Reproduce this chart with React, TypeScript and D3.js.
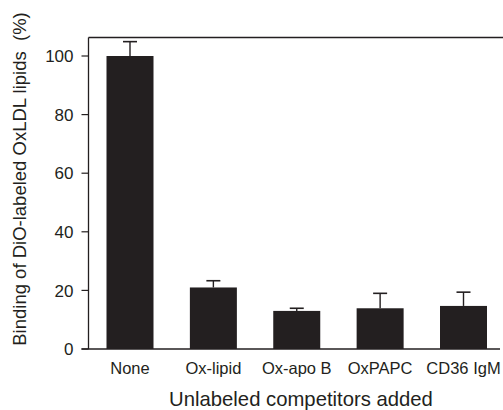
import React from "react"
import * as d3 from "d3"

const categories = ["None", "Ox-lipid", "Ox-apo B", "OxPAPC", "CD36 IgM"]
const values = [100, 21, 13, 13.9, 14.7]
const errors = [4.9, 2.3, 0.9, 5.1, 4.7]
const yTicks = [0, 20, 40, 60, 80, 100]

const App = () => {
  const width = 503
  const height = 410
  const axisX = 88.5
  const baseY = 349
  const y = d3.scaleLinear().domain([0, 100]).range([baseY, 56])
  const x = d3.scalePoint<string>().domain(categories).range([130, 463.5])
  const barW = 47
  const ink = "#231f20"
  const font = "Liberation Sans, Arial, sans-serif"

  return (
    <svg width={width} height={height} style={{ position: "absolute", left: 0, top: 0 }}>
      {/* frame top and baseline */}
      <line x1={axisX} x2={width} y1={37.5} y2={37.5} stroke={ink} strokeWidth={1.3} />
      <line x1={axisX} x2={axisX} y1={37.5} y2={baseY} stroke={ink} strokeWidth={1.3} />
      <line x1={axisX - 7} x2={width - 3} y1={baseY} y2={baseY} stroke={ink} strokeWidth={1.3} />

      {yTicks.map(t => (
        <g key={t}>
          <line x1={axisX - 7} x2={axisX} y1={y(t)} y2={y(t)} stroke={ink} strokeWidth={1.2} />
          <text x={73.5} y={y(t)} dy="0.36em" textAnchor="end" fontSize={17} fontFamily={font} fill={ink}>{t}</text>
        </g>
      ))}

      {categories.map((c, i) => {
        const cx = x(c) as number
        const top = y(values[i])
        const errTop = y(values[i] + errors[i])
        return (
          <g key={c}>
            <line x1={cx} x2={cx} y1={errTop} y2={top} stroke={ink} strokeWidth={1.4} />
            <line x1={cx - 7} x2={cx + 7} y1={errTop} y2={errTop} stroke={ink} strokeWidth={1.6} />
            <rect x={cx - barW / 2} y={top} width={barW} height={baseY - top} fill={ink} />
            <text x={cx} y={373.5} textAnchor="middle" fontSize={16.5} fontFamily={font} fill={ink}>{c}</text>
          </g>
        )
      })}

      <text x={301} y={405.5} textAnchor="middle" fontSize={20.3} fontFamily={font} fill={ink}>Unlabeled competitors added</text>
      <text transform="translate(26,179) rotate(-90)" textAnchor="middle" fontSize={18.5} fontFamily={font} fill={ink} style={{ whiteSpace: "pre" }}>Binding of DiO-labeled OxLDL lipids  (%)</text>
    </svg>
  )
}

export default App
